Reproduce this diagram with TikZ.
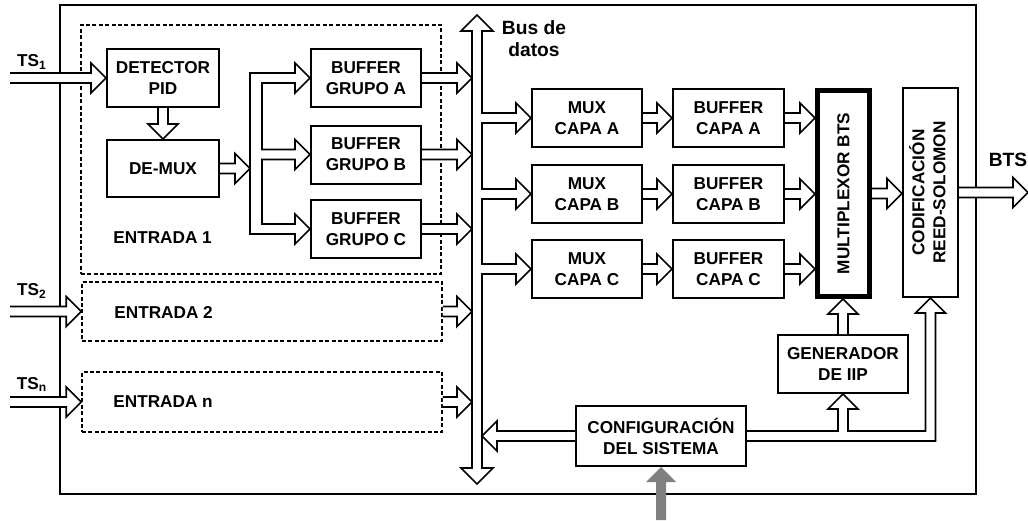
\documentclass[tikz,border=0pt]{standalone}
\usepackage{fontspec}
\setmainfont{Liberation Sans}
\usepackage{graphicx}
\usetikzlibrary{calc}

\newcommand{\boxfont}{\fontsize{8.6}{10.5}\selectfont\bfseries}
\newcommand{\bigfont}{\fontsize{9.6}{11}\selectfont\bfseries}
% sizes of the hollow arrows
\newcommand{\arrsw}{2.5pt}
\newcommand{\arrhw}{7.5pt}
\newcommand{\arrhl}{7.5pt}
\newcommand{\bushw}{8pt}
\newcommand{\bushl}{8pt}
\newcommand{\headR}{-- ++(0,\arrhw-\arrsw) -- ++(\arrhl,-\arrhw) -- ++(-\arrhl,-\arrhw) -- ++(0,\arrhw-\arrsw)}
\newcommand{\headU}{-- ++(\arrsw-\arrhw,0) -- ++(\arrhw,\arrhl) -- ++(\arrhw,-\arrhl) -- ++(\arrsw-\arrhw,0)}
% horizontal and vertical hollow arrows between two points
\newcommand{\harrow}[3][hollow]{%
  \path[#1] let \p1=(#2), \p2=(#3), \p3=($(#3)!\arrhl!(#2)$) in
    (\x1,\y1+\arrsw) -- (\x3,\y1+\arrsw) -- (\x3,\y1+\arrhw) -- (\x2,\y1)
    -- (\x3,\y1-\arrhw) -- (\x3,\y1-\arrsw) -- (\x1,\y1-\arrsw);}
\newcommand{\varrow}[3][hollow]{%
  \path[#1] let \p1=(#2), \p2=(#3), \p3=($(#3)!\arrhl!(#2)$) in
    (\x1+\arrsw,\y1) -- (\x1+\arrsw,\y3) -- (\x1+\arrhw,\y3) -- (\x1,\y2)
    -- (\x1-\arrhw,\y3) -- (\x1-\arrsw,\y3) -- (\x1-\arrsw,\y1);}

\tikzset{
    blk/.style={draw,line width=1pt,align=center,font=\boxfont,inner sep=0pt},
    dashbox/.style={draw,dash pattern=on 2pt off 1.2pt,line width=0.8pt},
    hollow/.style={draw,fill=white,line width=0.8pt,line join=miter},
    grayarr/.style={fill=black!50,draw=none},
    lbl/.style={font=\boxfont,inner sep=0pt}
}

\begin{document}
\begin{tikzpicture}[x=0.5pt,y=-0.5pt]
  \useasboundingbox (0,0) rectangle (1028,520);
  \draw[line width=1pt] (60,5) rectangle (976,494);

  % inputs
  \node[dashbox,minimum width=180pt,minimum height=124.5pt] (ent1) at (261,149.5) {};
  \node[dashbox,minimum width=180pt,minimum height=29.5pt] (ent2) at (262,311.5) {};
  \node[dashbox,minimum width=180pt,minimum height=30pt] (entn) at (262,402) {};
  \node[lbl,anchor=west] (ent1lbl) at (113,238) {ENTRADA 1};
  \node[lbl,anchor=west] (ent2lbl) at (114,312) {ENTRADA 2};
  \node[lbl,anchor=west] (entnlbl) at (113,402) {ENTRADA n};

  \node[blk,minimum width=56pt,minimum height=29pt] (det) at (163,78) {DETECTOR\\PID};
  \node[blk,minimum width=56pt,minimum height=28.5pt] (demux) at (163,168.5) {DE-MUX};
  \node[blk,minimum width=55pt,minimum height=29pt] (bufA) at (366,78) {BUFFER\\GRUPO A};
  \node[blk,minimum width=55pt,minimum height=29pt] (bufB) at (366,154.5) {BUFFER\\GRUPO B};
  \node[blk,minimum width=55pt,minimum height=29pt] (bufC) at (366,229) {BUFFER\\GRUPO C};

  % layers
  \node[blk,minimum width=55pt,minimum height=29pt] (muxA) at (587,118) {MUX\\CAPA A};
  \node[blk,minimum width=55pt,minimum height=29pt] (muxB) at (587,194) {MUX\\CAPA B};
  \node[blk,minimum width=55pt,minimum height=29pt] (muxC) at (587,269) {MUX\\CAPA C};
  \node[blk,minimum width=55.5pt,minimum height=29pt] (bcA) at (728.5,118) {BUFFER\\CAPA A};
  \node[blk,minimum width=55.5pt,minimum height=29pt] (bcB) at (728.5,194) {BUFFER\\CAPA B};
  \node[blk,minimum width=55.5pt,minimum height=29pt] (bcC) at (728.5,269) {BUFFER\\CAPA C};
  \node[blk,line width=2.3pt,minimum width=26.2pt,minimum height=103.2pt] (mbts) at (843.5,193.5)
    {\rotatebox{90}{MULTIPLEXOR BTS}};
  \node[blk,minimum width=27.5pt,minimum height=104.5pt] (cod) at (930.5,192.5)
    {\rotatebox{90}{\begin{tabular}{@{}c@{}}CODIFICACIÓN\\REED-SOLOMON\end{tabular}}};
  \node[blk,minimum width=65pt,minimum height=29pt] (gen) at (843,364) {GENERADOR\\DE IIP};
  \node[blk,minimum width=85pt,minimum height=30pt] (conf) at (661,436) {CONFIGURACIÓN\\DEL SISTEMA};

  % labels
  \node[lbl] (ts1) at (32,62) {TS\textsubscript{1}};
  \node[lbl] (ts2) at (32,291) {TS\textsubscript{2}};
  \node[lbl] (tsn) at (32,384) {TS\textsubscript{n}};
  \node[font=\bigfont,align=center,inner sep=0pt] (buslbl) at (534,39) {Bus de\\datos};
  \node[font=\bigfont,inner sep=0pt] (btslbl) at (1008,160) {BTS};

  \coordinate (ts1in) at (10,78);
  \coordinate (ts2in) at (10,311.5);
  \coordinate (tsnin) at (10,402);
  \coordinate (split) at (250,168.5);
  \coordinate (busL) at (472,15);
  \coordinate (busR) at (482,15);
  \coordinate (bustop) at (477,15);
  \coordinate (busbot) at (477,484);
  \coordinate (btsout) at (1028,192.5);
  \coordinate (cfgin) at (661,520);

  % data bus
  \path[hollow] let \p1=(muxA.west), \p2=(muxB.west), \p3=(muxC.west), \p4=(bustop), \p5=(busbot) in
    (\p4) -- (\x4+\bushw,\y4-\bushl) -- (\x4+\arrsw,\y4-\bushl)
    -- (\x4+\arrsw,\y1+\arrsw) -- (\x1-\arrhl,\y1+\arrsw) \headR -- (\x4+\arrsw,\y1-\arrsw)
    -- (\x4+\arrsw,\y2+\arrsw) -- (\x2-\arrhl,\y2+\arrsw) \headR -- (\x4+\arrsw,\y2-\arrsw)
    -- (\x4+\arrsw,\y3+\arrsw) -- (\x3-\arrhl,\y3+\arrsw) \headR -- (\x4+\arrsw,\y3-\arrsw)
    -- (\x4+\arrsw,\y5+\bushl) -- (\x4+\bushw,\y5+\bushl) -- (\p5) -- (\x4-\bushw,\y5+\bushl)
    -- (\x4-\arrsw,\y5+\bushl) -- (\x4-\arrsw,\y4-\bushl) -- (\x4-\bushw,\y4-\bushl) -- cycle;

  % demux to buffer groups
  \path[hollow] let \p1=(bufA.west), \p2=(bufB.west), \p3=(bufC.west), \p4=(split) in
    (\x4,\y3-\arrsw) -- (\x4,\y1+\arrsw) -- (\x1-\arrhl,\y1+\arrsw) \headR
    -- (\x4+6pt,\y1-\arrsw) -- (\x4+6pt,\y2+\arrsw) -- (\x2-\arrhl,\y2+\arrsw) \headR
    -- (\x4+6pt,\y2-\arrsw) -- (\x4+6pt,\y3+\arrsw) -- (\x3-\arrhl,\y3+\arrsw) \headR -- cycle;

  % configuration to generator and coder
  \path[hollow] let \p1=(conf.east), \p2=(gen.south), \p3=(cod.south) in
    (\x1,\y1+\arrsw) -- (\x2-\arrsw,\y1+\arrsw) -- (\x2-\arrsw,\y2-\arrhl) \headU
    -- (\x2+\arrsw,\y1+\arrsw) -- (\x3-\arrsw,\y1+\arrsw) -- (\x3-\arrsw,\y3-\arrhl) \headU
    -- (\x3+\arrsw,\y1-\arrsw) -- (\x1,\y1-\arrsw);

  \harrow{ts1in}{det.west}
  \harrow{ts2in}{ent2.west}
  \harrow{tsnin}{entn.west}
  \varrow{det.south}{demux.north}
  \harrow{demux.east}{split |- demux.east}
  \foreach \b in {bufA,bufB,bufC,ent2,entn}{\harrow{\b.east}{busL |- \b.east}}
  \foreach \l in {A,B,C}{
    \harrow{mux\l.east}{bc\l.west}
    \harrow{bc\l.east}{mbts.west |- bc\l.east}
  }
  \harrow{mbts.east}{cod.west |- mbts.east}
  \harrow{cod.east}{btsout}
  \varrow{gen.north}{mbts.south}
  \harrow{conf.west}{busR |- conf.west}
  \varrow[grayarr]{cfgin}{conf.south}
\end{tikzpicture}
\end{document}
